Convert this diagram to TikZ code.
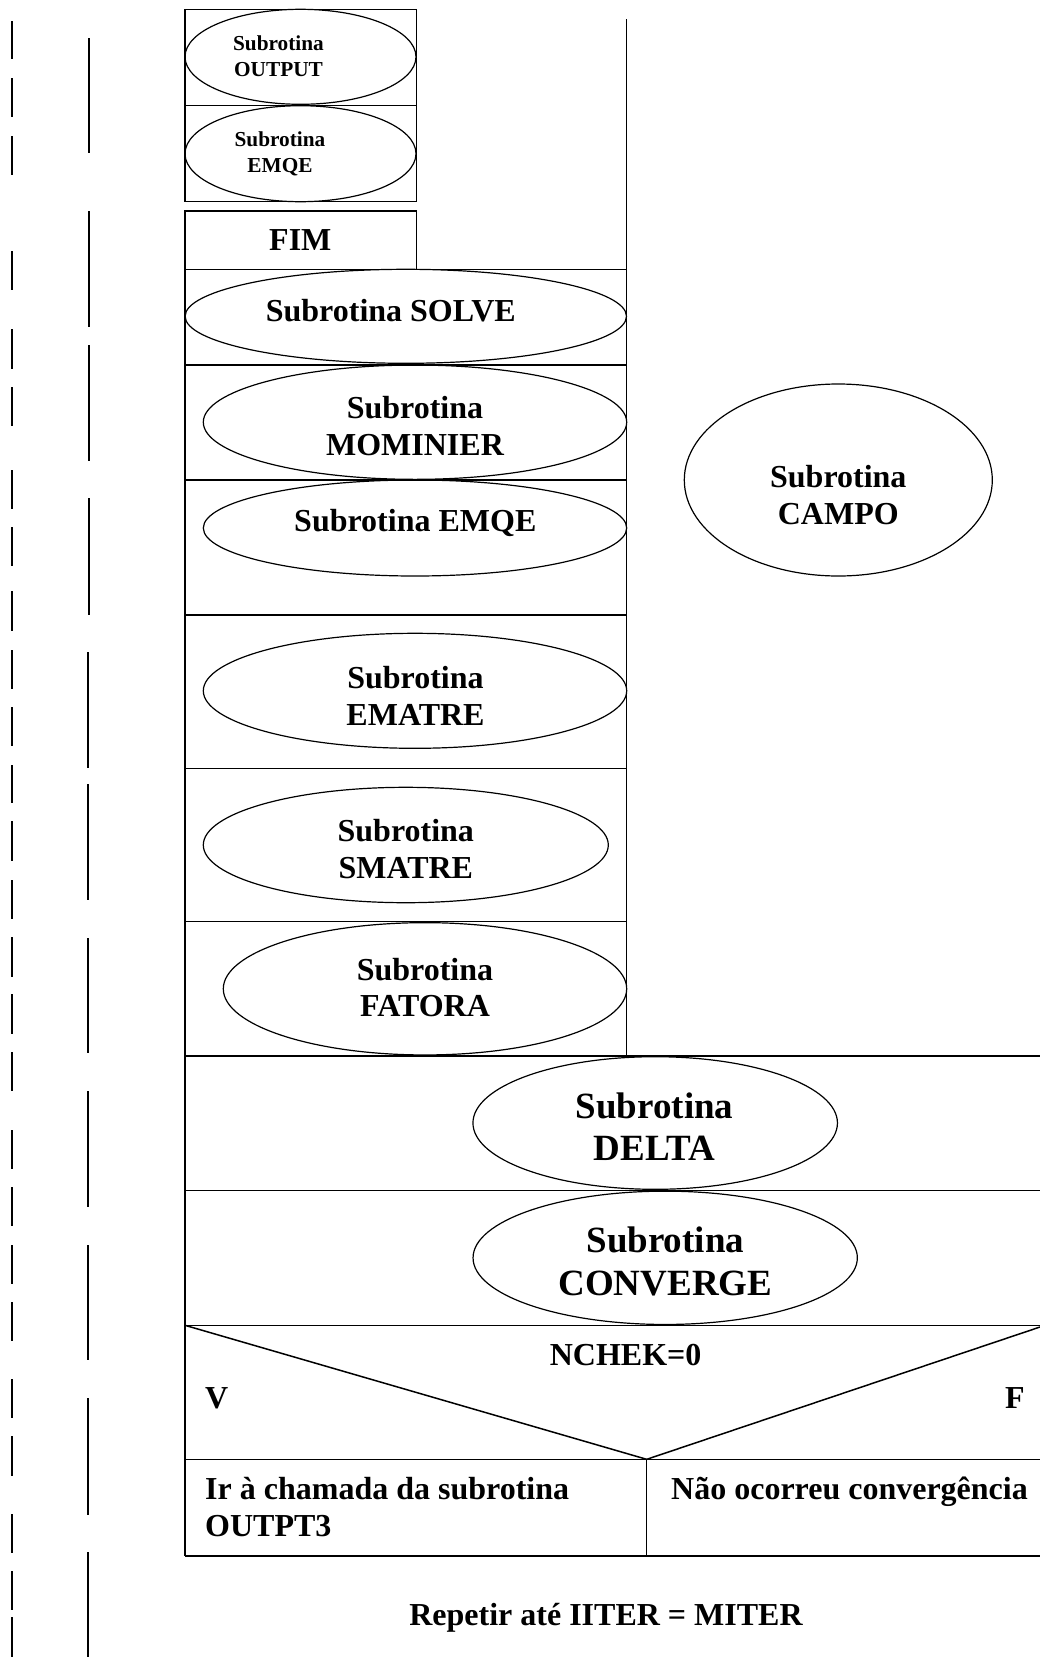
\documentclass[tikz,border=0pt]{standalone}
\usepackage{fontspec}
\setmainfont{Liberation Serif}
\usetikzlibrary{shapes.geometric}
\tikzset{
  boxline/.style={line width=1.5pt},
  ell/.style={draw, ellipse, line width=1.2pt, inner sep=0pt},
  dashseg/.style={line width=2pt},
  txtmid/.style={inner sep=0pt, align=center, font=\bfseries\fontsize{32}{36.7}\selectfont},
  txtsmall/.style={inner sep=0pt, align=center, font=\bfseries\fontsize{21.3}{25.4}\selectfont},
  txtbig/.style={inner sep=0pt, align=center, font=\bfseries\fontsize{37}{42.5}\selectfont},
  txtleft/.style={inner sep=0pt, align=left, font=\bfseries\fontsize{32}{37.4}\selectfont}
}
\begin{document}
\begin{tikzpicture}[x=1pt,y=-1pt]
\useasboundingbox (0,0) rectangle (1040,1657);
% left dashed columns
\foreach \a/\b in {21/59,78/117,136/175,251/290,329/369,387/426,470/509,527/566,591/631,650/689,707/746,765/803,821/861,880/919,937/977,994/1034,1052/1091,1130/1169,1187/1226,1245/1284,1302/1341,1379/1418,1436/1476,1514/1553,1571/1610,1617/1657}
  \draw[dashseg] (11.5,\a) -- (11.5,\b);
\foreach \a/\b in {38/153,211/327,345/461,498/615}
  \draw[dashseg] (89,\a) -- (89,\b);
\foreach \a/\b in {652/768,784/900,938/1053,1091/1207,1245/1360,1398/1515,1552/1657}
  \draw[dashseg] (88,\a) -- (88,\b);
% top box
\draw[boxline] (185,9.3) rectangle (416.7,201.7);
\draw[boxline] (185,105.7) -- (416.7,105.7);
% FIM box
\draw[boxline] (185,211) rectangle (416.7,269.3);
% main column
\draw[boxline] (626.7,19) -- (626.7,1056);
\draw[boxline] (185,269.3) -- (185,1556);
\foreach \y in {269.3,365,480,615,768.3,921.7}
  \draw[boxline] (185,\y) -- (626.7,\y);
\foreach \y in {1056,1190.7,1325.3,1459.3,1556}
  \draw[boxline] (185,\y) -- (1040,\y);
\draw[boxline] (646.7,1459.3) -- (646.7,1556);
\coordinate (triL) at (185,1325.3);
\coordinate (triA) at (646.7,1459.3);
\coordinate (triR) at (1040,1327);
\draw[boxline] (triL) -- (triA) -- (triR);
% ellipses
\node[ell, minimum width=231pt, minimum height=95pt] (eOut) at (300.5,56.8) {};
\node[ell, minimum width=231pt, minimum height=96pt] (eEmqeS) at (300.5,153.7) {};
\node[ell, minimum width=441.4pt, minimum height=94pt] (eSolve) at (405.8,316.3) {};
\node[ell, minimum width=423.4pt, minimum height=114.3pt] (eMom) at (415,422.2) {};
\node[ell, minimum width=423.4pt, minimum height=96pt] (eEmqe) at (415,528) {};
\node[ell, minimum width=423.4pt, minimum height=115pt] (eEmatre) at (415,690.8) {};
\node[ell, minimum width=405pt, minimum height=115.4pt] (eSmatre) at (405.8,845) {};
\node[ell, minimum width=403.4pt, minimum height=132.3pt] (eFatora) at (425,988.8) {};
\node[ell, minimum width=308pt, minimum height=192pt] (eCampo) at (838.3,480) {};
\node[ell, minimum width=364.5pt, minimum height=132.6pt] (eDelta) at (655.2,1123) {};
\node[ell, minimum width=384.3pt, minimum height=133.3pt] (eConv) at (665.2,1257.8) {};
% texts (multi-line nodes: base = last line's baseline)
\node[txtsmall, anchor=base] (tOut) at (278.5,76) {Subrotina\\OUTPUT};
\node[txtsmall, anchor=base] (tEmqeS) at (280,172.3) {Subrotina\\EMQE};
\node[txtmid, anchor=base] (tFim) at (300.3,250.7) {FIM};
\node[txtmid, anchor=base] (tSolve) at (390.8,321) {Subrotina SOLVE};
\node[txtmid, anchor=base] (tMom) at (415,455) {Subrotina\\MOMINIER};
\node[txtmid, anchor=base] (tEmqe) at (415.3,531.7) {Subrotina EMQE};
\node[txtmid, anchor=base] (tEmatre) at (415.5,725) {Subrotina\\EMATRE};
\node[txtmid, anchor=base] (tSmatre) at (405.8,878.3) {Subrotina\\SMATRE};
\node[txtmid, anchor=base] (tFatora) at (425,1016.7) {Subrotina\\FATORA};
\node[txtmid, anchor=base] (tCampo) at (838.3,524) {Subrotina\\CAMPO};
\node[txtbig, anchor=base] (tDelta) at (654.6,1160.7) {Subrotina\\DELTA};
\node[txtbig, anchor=base] (tConv) at (665.3,1295.3) {Subrotina\\CONVERGE};
\node[txtmid, anchor=base] (tNchek) at (625.6,1365) {NCHEK=0};
\node[txtleft, anchor=base west] (tV) at (205,1408.3) {V};
\node[txtleft, anchor=base west] (tF) at (1005,1408.3) {F};
\node[txtleft, anchor=base west] (tIr) at (205,1536.7) {Ir à chamada da subrotina\\OUTPT3};
\node[txtleft, anchor=base west] (tNao) at (671,1499.3) {Não ocorreu convergência};
\node[txtmid, anchor=base] (tRep) at (606,1625) {Repetir até IITER = MITER};
\end{tikzpicture}
\end{document}
